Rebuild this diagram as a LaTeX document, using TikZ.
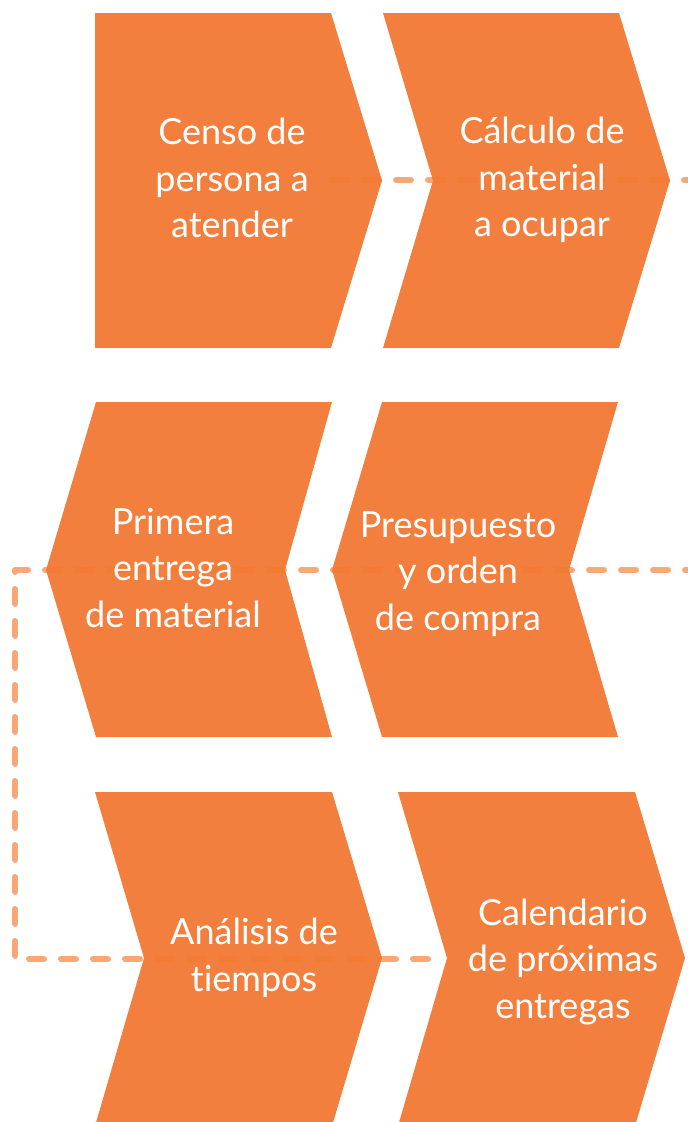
\documentclass[tikz,border=0pt]{standalone}
\usepackage{fontspec}
\setmainfont{Lato}[Ligatures=NoCommon]
\definecolor{chev}{HTML}{F27F3D}
\definecolor{dashc}{HTML}{F47A30}
\begin{document}
\begin{tikzpicture}[x=1pt,y=-1pt,
  chevfill/.style={fill=chev,draw=none},
  dashline/.style={draw=dashc,opacity=0.65,line width=6pt,line cap=round,line join=round,dash pattern=on 15pt off 17pt},
  lbl/.style={text=white,align=center,font=\fontsize{36}{46.5}\selectfont,inner sep=0pt}
]
\useasboundingbox (0,0) rectangle (688,1122);
\clip (0,0) rectangle (688,1122);
% row 1
\fill[chevfill] (95,13) -- (331,13) -- (382,180.5) -- (331,348) -- (95,348) -- cycle;
\fill[chevfill] (383,13) -- (619,13) -- (670,180.5) -- (619,348) -- (383,348) -- (433,180.5) -- cycle;
% row 2
\fill[chevfill] (96,402) -- (332,402) -- (285,570) -- (332,737) -- (96,737) -- (46,570) -- cycle;
\fill[chevfill] (382,402) -- (618,402) -- (569,570) -- (618,737) -- (382,737) -- (332,570) -- cycle;
% row 3
\fill[chevfill] (95,792) -- (332,792) -- (382,958) -- (332,1126) -- (95,1126) -- (144,958) -- cycle;
\fill[chevfill] (398,792) -- (635,792) -- (685,958) -- (635,1126) -- (398,1126) -- (447,958) -- cycle;
% connector coordinates
\coordinate (c1a) at (332,180);
\coordinate (c1b) at (700,180);
\coordinate (c2a) at (700,570);
\coordinate (c2b) at (15,570);
\coordinate (c2c) at (15,959);
\coordinate (c2d) at (440,959);
\draw[dashline] (c1a) -- (c1b);
\draw[dashline] (c2a) -- (c2b) -- (c2c) -- (c2d);
% labels
\node[lbl] (t1) at (232,178) {Censo de\\persona a\\atender};
\node[lbl] (t2) at (542,180) {Cálculo de\\material\\a ocupar};
\node[lbl] (t3) at (173,568) {Primera\\entrega\\de material};
\node[lbl] (t4) at (458,574) {Presupuesto\\y orden\\de compra};
\node[lbl] (t5) at (254,958) {Análisis de\\tiempos};
\node[lbl] (t6) at (563,962) {Calendario\\de próximas\\entregas};
\end{tikzpicture}
\end{document}
